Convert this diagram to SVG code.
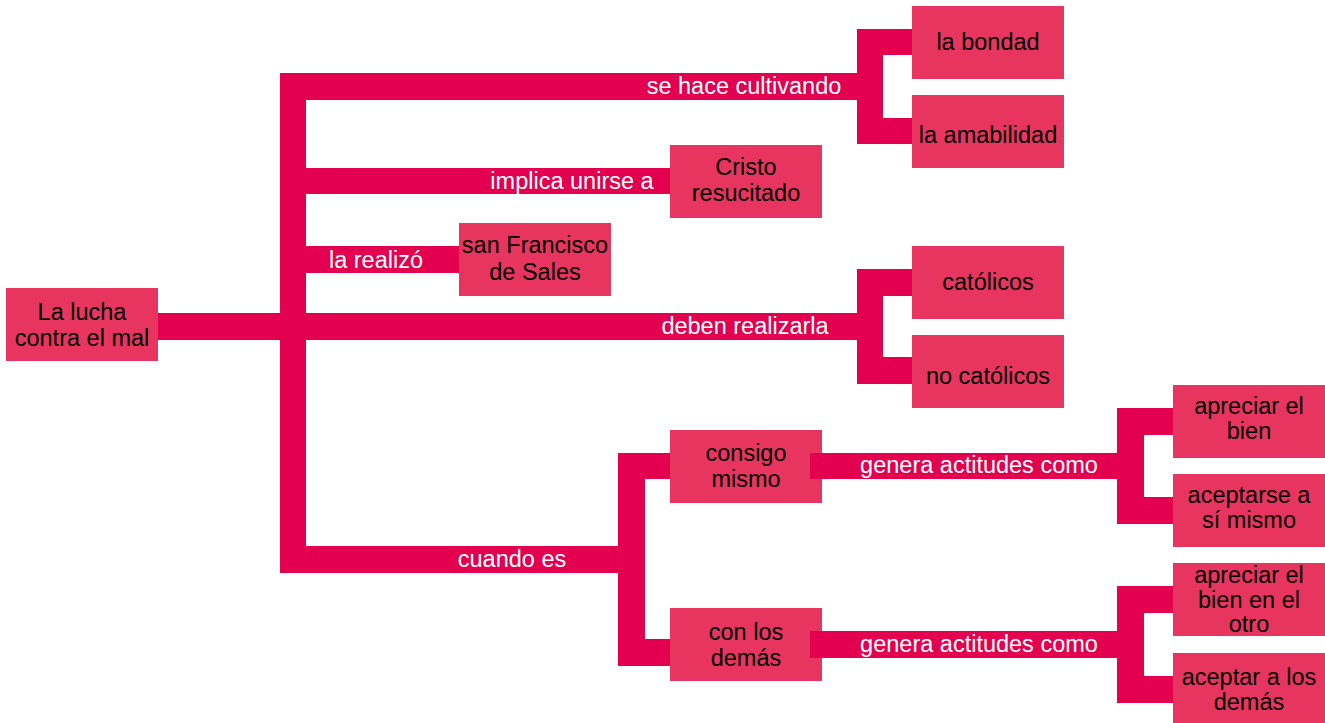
<svg xmlns="http://www.w3.org/2000/svg" width="1325" height="723" viewBox="0 0 1325 723">
<style>
.box{fill:#E8355F}
.bar{fill:#E3004F}
.nt{font-family:"Liberation Sans",Arial,sans-serif;font-size:23.5px;fill:#000;text-anchor:middle}
.lt{font-family:"Liberation Sans",Arial,sans-serif;font-size:23.5px;fill:#fff;text-anchor:middle}
</style>
<rect width="1325" height="723" fill="#fff"/>
<g id="n-root"><rect class="box" x="6" y="288" width="152" height="73"/><text class="nt" x="82" y="320">La lucha</text><text class="nt" x="82" y="346">contra el mal</text></g>
<g id="n-bondad"><rect class="box" x="912" y="6" width="152" height="73"/><text class="nt" x="988" y="50">la bondad</text></g>
<g id="n-amabilidad"><rect class="box" x="912" y="95" width="152" height="73"/><text class="nt" x="988" y="143">la amabilidad</text></g>
<g id="n-cristo"><rect class="box" x="670" y="145" width="152" height="73"/><text class="nt" x="746" y="175">Cristo</text><text class="nt" x="746" y="201">resucitado</text></g>
<g id="n-francisco"><rect class="box" x="459" y="223" width="152" height="73"/><text class="nt" x="535" y="253">san Francisco</text><text class="nt" x="535" y="280">de Sales</text></g>
<g id="n-catolicos"><rect class="box" x="912" y="246" width="152" height="73"/><text class="nt" x="988" y="290">católicos</text></g>
<g id="n-nocatolicos"><rect class="box" x="912" y="335" width="152" height="73"/><text class="nt" x="988" y="384">no católicos</text></g>
<g id="n-consigo"><rect class="box" x="670" y="430" width="152" height="73"/><text class="nt" x="746" y="461">consigo</text><text class="nt" x="746" y="487">mismo</text></g>
<g id="n-demas"><rect class="box" x="670" y="608" width="152" height="73"/><text class="nt" x="746" y="640">con los</text><text class="nt" x="746" y="666">demás</text></g>
<g id="n-apreciar"><rect class="box" x="1173" y="385" width="152" height="73"/><text class="nt" x="1249" y="414">apreciar el</text><text class="nt" x="1249" y="439">bien</text></g>
<g id="n-aceptarse"><rect class="box" x="1173" y="474" width="152" height="73"/><text class="nt" x="1249" y="503">aceptarse a</text><text class="nt" x="1249" y="528">sí mismo</text></g>
<g id="n-apreciarotro"><rect class="box" x="1173" y="563" width="152" height="73"/><text class="nt" x="1249" y="583">apreciar el</text><text class="nt" x="1249" y="608">bien en el</text><text class="nt" x="1249" y="632">otro</text></g>
<g id="n-aceptardemas"><rect class="box" x="1173" y="653" width="152" height="73"/><text class="nt" x="1249" y="685">aceptar a los</text><text class="nt" x="1249" y="710">demás</text></g>
<g id="connectors">
<rect class="bar" x="158" y="313" width="699" height="27"/>
<rect class="bar" x="280" y="73" width="26" height="500"/>
<rect class="bar" x="280" y="73" width="577" height="27"/>
<rect class="bar" x="857" y="29" width="26" height="115"/>
<rect class="bar" x="857" y="29" width="55" height="26"/>
<rect class="bar" x="857" y="118" width="55" height="26"/>
<rect class="bar" x="280" y="168" width="390" height="26"/>
<rect class="bar" x="280" y="246" width="179" height="27"/>
<rect class="bar" x="857" y="269" width="26" height="115"/>
<rect class="bar" x="857" y="269" width="55" height="27"/>
<rect class="bar" x="857" y="357" width="55" height="27"/>
<rect class="bar" x="280" y="546" width="365" height="27"/>
<rect class="bar" x="618" y="453" width="27" height="213"/>
<rect class="bar" x="618" y="453" width="52" height="26"/>
<rect class="bar" x="618" y="639" width="52" height="27"/>
<rect class="bar" x="810" y="453" width="307" height="26"/>
<rect class="bar" x="810" y="631" width="307" height="27"/>
<rect class="bar" x="1117" y="408" width="27" height="116"/>
<rect class="bar" x="1117" y="408" width="56" height="27"/>
<rect class="bar" x="1117" y="497" width="56" height="27"/>
<rect class="bar" x="1117" y="586" width="27" height="117"/>
<rect class="bar" x="1117" y="586" width="56" height="27"/>
<rect class="bar" x="1117" y="676" width="56" height="27"/>
<text class="lt" x="744" y="94">se hace cultivando</text>
<text class="lt" x="572" y="189">implica unirse a</text>
<text class="lt" x="376" y="268">la realizó</text>
<text class="lt" x="745" y="334">deben realizarla</text>
<text class="lt" x="512" y="567">cuando es</text>
<text class="lt" x="979" y="473">genera actitudes como</text>
<text class="lt" x="979" y="652">genera actitudes como</text>
</g>
</svg>
